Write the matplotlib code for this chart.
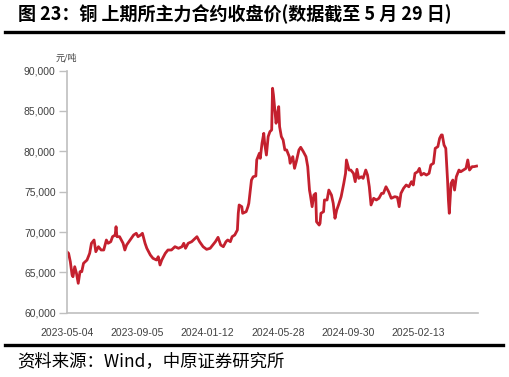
import matplotlib
matplotlib.use('Agg')
import matplotlib.pyplot as plt
from matplotlib.lines import Line2D
from matplotlib.ticker import FuncFormatter

plt.rcParams['font.family'] = ['Liberation Sans', 'Noto Sans CJK SC']

# trading-day index (0 = 2023-05-04) and closing price, yuan/tonne
day = [0, 2, 4, 6, 7, 9, 11, 13, 15, 17, 19, 23, 26, 28, 31, 33, 36, 39, 42, 45,
       47, 50, 52, 55, 56, 57, 60, 64, 66, 68, 72, 76, 79, 81, 84, 86, 89, 91, 95, 98,
       102, 104, 106, 108, 112, 115, 119, 123, 127, 131, 133, 135, 138, 142, 146, 148,
       151, 155, 159, 163, 166, 169, 172, 175, 178, 181, 183, 186, 188, 191, 194, 195,
       196, 199, 200, 204, 206, 207, 210, 212, 215, 216, 219, 220, 222, 224, 225, 227,
       229, 231, 233, 234, 235, 238, 239, 241, 242, 244, 246, 248, 250, 253, 254, 257,
       259, 261, 264, 266, 269, 272, 274, 276, 277, 279, 281, 283, 284, 287, 288, 289,
       292, 293, 296, 298, 301, 303, 305, 307, 309, 312, 315, 317, 318, 321, 323, 326,
       328, 330, 332, 335, 337, 340, 342, 344, 346, 349, 352, 355, 358, 360, 363, 366,
       369, 373, 376, 378, 380, 383, 386, 389, 392, 394, 396, 399, 401, 403, 406, 409,
       412, 414, 417, 419, 422, 424, 426, 427, 429, 431, 433, 434, 435, 437, 439, 441,
       443, 446, 448, 451, 454, 456, 458, 461, 463, 466]
price = [67560, 67360, 66320, 64670, 64460, 65700, 64870, 63640, 65080, 65080,
         66120, 66530, 67360, 68600, 69010, 67560, 68180, 67770, 67770, 69010,
         68600, 68800, 69420, 69630, 70660, 69420, 69420, 68600, 67770, 68390,
         69010, 69630, 69840, 69420, 69630, 69840, 68600, 67980, 67150, 66740,
         66530, 66940, 65910, 66530, 67360, 67770, 67770, 68180, 67980, 68180,
         68600, 67980, 68600, 68800, 69220, 69420, 68800, 68180, 67850, 67980,
         68390, 68800, 69340, 68390, 68180, 68800, 69010, 68800, 69420, 69630,
         70250, 72320, 73350, 73140, 72320, 72520, 73140, 73560, 76440, 76850,
         76940, 78930, 79760, 79130, 80990, 82230, 80990, 79540, 81820, 82440,
         82650, 87820, 86990, 83480, 84300, 85540, 83060, 81820, 81410, 80170,
         80170, 79340, 78520, 79340, 77890, 78720, 80170, 80500, 79960, 79340,
         78100, 75200, 74580, 73140, 74580, 74790, 71270, 70860, 71080, 72320,
         72520, 73970, 73970, 75200, 74580, 73560, 71700, 72730, 73350, 74380,
         76030, 77270, 78930, 77680, 77680, 77270, 76240, 77770, 76650, 76850,
         76650, 77680, 77060, 75610, 73350, 74180, 73970, 74180, 74790, 74790,
         75610, 75000, 74180, 74380, 74300, 73140, 74790, 75420, 75830, 75610,
         76240, 75830, 77270, 77470, 77890, 77060, 77270, 77060, 77270, 78310,
         78520, 80370, 80580, 81610, 82030, 82030, 80790, 80370, 76440, 73970,
         72320, 76030, 76440, 75200, 76850, 77680, 77470, 77680, 77890, 78930,
         77680, 78100, 78100, 78170]

tick_days = [0, 80, 160, 240, 320, 400]
tick_labels = ['2023-05-04', '2023-09-05', '2024-01-12', '2024-05-28',
               '2024-09-30', '2025-02-13']

fig = plt.figure(figsize=(5.1, 3.77), dpi=100)
ax = fig.add_axes([0.131, 0.1706, 0.806, 0.642])

ax.plot(day, price, color='#c4202e', lw=2.0)

ax.set_xlim(0, 467.5)
ax.set_ylim(60000, 90000)
ax.set_yticks(range(60000, 90001, 5000))
ax.yaxis.set_major_formatter(FuncFormatter(lambda v, p: f'{v:,.0f}'))
ax.set_xticks(tick_days)
ax.set_xticklabels(tick_labels)

for s in ['top', 'right']:
    ax.spines[s].set_visible(False)
for s in ['left', 'bottom']:
    ax.spines[s].set_color('#bfbfbf')
    ax.spines[s].set_linewidth(1.2)
ax.tick_params(axis='y', length=6, width=1, color='#bfbfbf', labelsize=7.5,
               labelcolor='#404040', pad=2)
ax.tick_params(axis='x', length=0, labelsize=7.5, labelcolor='#404040', pad=11)

ax.text(0, 1.055, '元/吨', transform=ax.transAxes, ha='center', va='center',
        fontsize=6.5, color='#404040', family=['Noto Sans CJK SC'])

fig.text(18 / 510, 1 - 14 / 377, '图 23：铜 上期所主力合约收盘价(数据截至 5 月 29 日)',
         ha='left', va='center', fontsize=13, fontweight='bold',
         family=['Noto Sans CJK SC', 'DejaVu Sans'], color='black')
fig.text(17 / 510, 1 - 361 / 377, '资料来源：Wind，中原证券研究所',
         ha='left', va='center', fontsize=12.5,
         family=['Noto Sans CJK SC', 'DejaVu Sans'], color='black')

fig.add_artist(Line2D([5 / 510, 503 / 510], [1 - 31.5 / 377] * 2, color='black', lw=2.4))
fig.add_artist(Line2D([5 / 510, 503 / 510], [1 - 345 / 377] * 2, color='black', lw=2.4))

fig.savefig('out.png', dpi=100)
